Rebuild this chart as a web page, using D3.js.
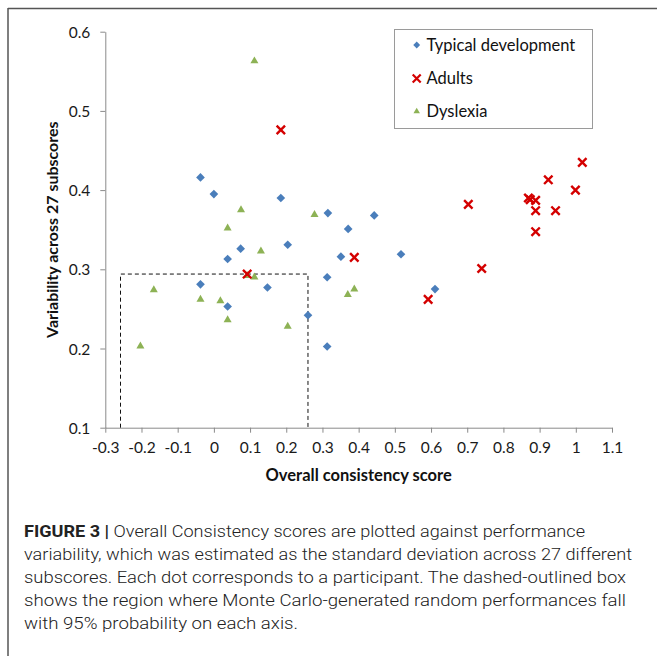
<!DOCTYPE html>
<html><head><meta charset="utf-8">
<script src="https://cdn.jsdelivr.net/npm/d3@7/dist/d3.min.js"></script>
<style>body{margin:0;background:#fff}svg{display:block}</style>
</head><body>
<script>
// ---- data ----
const seriesNames = ["Typical development", "Adults", "Dyslexia"];
const typicalX = [-0.037, 0.000, 0.185, 0.315, 0.371, 0.443, 0.074, 0.204, 0.038, 0.313, -0.037, 0.148, 0.038, 0.260, 0.313, 0.351, 0.517, 0.611];
const typicalY = [0.416, 0.395, 0.390, 0.371, 0.351, 0.368, 0.326, 0.331, 0.313, 0.290, 0.281, 0.277, 0.253, 0.242, 0.2025, 0.316, 0.319, 0.275];
const adultsX = [0.185, 0.092, 0.388, 0.592, 0.740, 0.703, 0.869, 0.874, 0.889, 0.889, 0.889, 0.944, 0.924, 0.999, 1.018];
const adultsY = [0.476, 0.294, 0.315, 0.262, 0.301, 0.382, 0.390, 0.388, 0.387, 0.374, 0.3475, 0.374, 0.413, 0.400, 0.435];
const dyslexiaX = [0.112, 0.075, 0.038, 0.278, 0.130, 0.092, 0.112, -0.166, -0.037, 0.018, 0.038, 0.204, -0.203, 0.370, 0.388];
const dyslexiaY = [0.563, 0.375, 0.352, 0.369, 0.323, 0.292, 0.290, 0.274, 0.262, 0.260, 0.236, 0.228, 0.203, 0.268, 0.275];
const xTicks = [-0.3, -0.2, -0.1, 0, 0.1, 0.2, 0.3, 0.4, 0.5, 0.6, 0.7, 0.8, 0.9, 1, 1.1];
const xTickLabels = ["-0.3", "-0.2", "-0.1", "0", "0.1", "0.2", "0.3", "0.4", "0.5", "0.6", "0.7", "0.8", "0.9", "1", "1.1"];
const yTicks = [0.1, 0.2, 0.3, 0.4, 0.5, 0.6];
const yTickLabels = ["0.1", "0.2", "0.3", "0.4", "0.5", "0.6"];
const boxX = [-0.258, 0.26];
const boxYTop = [0.294];
const xTitle = "Overall consistency score";
const yTitle = "Variability across 27 subscores";
const captionBold = "FIGURE 3 |";
const captionLines = [
  " Overall Consistency scores are plotted against performance",
  "variability, which was estimated as the standard deviation across 27 different",
  "subscores. Each dot corresponds to a participant. The dashed-outlined box",
  "shows the region where Monte Carlo-generated random performances fall",
  "with 95% probability on each axis."
];

// ---- layout ----
const W = 657, H = 656;
const captionWidths = [561, 608, 602, 602, 274];
const colors = {typ: "#4A7EBB", adu: "#D40000", dys: "#8DB255", axis: "#8A8A8A"};
const svg = d3.select("body").append("svg").attr("width", W).attr("height", H);
const chartFont = "Lato, 'Open Sans', sans-serif";

// frame lines (top & left)
svg.append("line").attr("x1", 8).attr("x2", W).attr("y1", 8.5).attr("y2", 8.5).attr("stroke", "#555").attr("stroke-width", 1.5);
svg.append("line").attr("x1", 8).attr("x2", 8).attr("y1", 8).attr("y2", H).attr("stroke", "#555").attr("stroke-width", 1.5);

const x = d3.scaleLinear().domain([-0.3, 1.1]).range([105.3, 612]);
const y = d3.scaleLinear().domain([0.1, 0.6]).range([427.7, 31.7]);

// axes
const xAxis = d3.axisBottom(x).tickValues(xTicks).tickSizeOuter(0).tickSizeInner(5)
  .tickFormat((d, i) => xTickLabels[i]);
const yAxis = d3.axisLeft(y).tickValues(yTicks).tickSizeOuter(0).tickSizeInner(5)
  .tickFormat((d, i) => yTickLabels[i]);
const gx = svg.append("g").attr("transform", `translate(0,${y(0.1)})`).call(xAxis);
const gy = svg.append("g").attr("transform", `translate(${x(-0.3)},0)`).call(yAxis);
[gx, gy].forEach(g => {
  g.select(".domain").attr("stroke", colors.axis).attr("stroke-width", 1);
  g.selectAll(".tick line").attr("stroke", colors.axis);
  g.selectAll(".tick text").attr("fill", "#1a1a1a").style("font-family", chartFont).style("font-size", "15.5px");
});
gx.selectAll(".tick text").attr("y", 14);
gy.selectAll(".tick text").attr("x", -15).attr("dy", "0.36em");

// axis titles
svg.append("text").attr("x", (x(-0.3) + x(1.1)) / 2).attr("y", 481).attr("text-anchor", "middle")
  .style("font-family", chartFont).style("font-weight", "bold").style("font-size", "16.5px").attr("fill", "#111")
  .text(xTitle);
svg.append("text").attr("transform", `translate(57.5,${(y(0.1) + y(0.6)) / 2}) rotate(-90)`).attr("text-anchor", "middle")
  .style("font-family", chartFont).style("font-weight", "bold").style("font-size", "16px").attr("fill", "#111")
  .text(yTitle);

// dashed box
svg.append("path")
  .attr("d", `M${x(boxX[0])},${y(0.1)}V${y(boxYTop[0])}H${x(boxX[1])}V${y(0.1)}`)
  .attr("fill", "none").attr("stroke", "#111").attr("stroke-width", 1).attr("stroke-dasharray", "4,3");

// markers
const diamond = d3.symbol().type(d3.symbolDiamond2).size(48);
const tri = d3.symbol().type(d3.symbolTriangle2).size(46);
function drawX(g, cx, cy, r, color, sw) {
  g.append("path").attr("d", `M${cx - r},${cy - r}L${cx + r},${cy + r}M${cx - r},${cy + r}L${cx + r},${cy - r}`)
    .attr("stroke", color).attr("stroke-width", sw).attr("fill", "none");
}
const gm = svg.append("g");
gm.selectAll(".typ").data(d3.range(typicalX.length)).join("path")
  .attr("transform", i => `translate(${x(typicalX[i])},${y(typicalY[i])})`)
  .attr("d", diamond).attr("fill", colors.typ);
gm.selectAll(".dys").data(d3.range(dyslexiaX.length)).join("path").attr("class", "dys")
  .attr("transform", i => `translate(${x(dyslexiaX[i])},${y(dyslexiaY[i])})`)
  .attr("d", tri).attr("fill", colors.dys);
adultsX.forEach((v, i) => drawX(gm, x(v), y(adultsY[i]), 4.2, colors.adu, 2.4));

// legend
const lg = svg.append("g");
lg.append("rect").attr("x", 394.5).attr("y", 29.5).attr("width", 198).attr("height", 99)
  .attr("fill", "#fff").attr("stroke", "#9a9a9a").attr("stroke-width", 1);
const legRows = [45, 78.5, 111.5];
lg.append("path").attr("transform", `translate(416.7,${legRows[0]})`).attr("d", d3.symbol().type(d3.symbolDiamond2).size(30)).attr("fill", colors.typ);
drawX(lg, 416.7, legRows[1], 4, colors.adu, 2.2);
lg.append("path").attr("transform", `translate(416.7,${legRows[2]})`).attr("d", d3.symbol().type(d3.symbolTriangle2).size(30)).attr("fill", colors.dys);
seriesNames.forEach((n, i) => {
  lg.append("text").attr("x", 426.5).attr("y", legRows[i]).attr("dy", "0.36em")
    .style("font-family", chartFont).style("font-size", "16.5px").attr("fill", "#111").text(n);
});

// caption
const capFont = "Roboto, 'Liberation Sans', sans-serif";
const capBase = [537, 560, 583, 606, 628.5];
captionLines.forEach((line, i) => {
  const t = svg.append("text").attr("x", 24).attr("y", capBase[i])
    .style("font-family", capFont).style("font-size", "16.5px").style("font-weight", 300).attr("fill", "#222")
    .attr("textLength", captionWidths[i]).attr("lengthAdjust", "spacingAndGlyphs");
  if (i === 0) {
    t.append("tspan").style("font-weight", 700).attr("fill", "#222").text(captionBold);
  }
  t.append("tspan").text(line);
});
</script>
</body></html>
